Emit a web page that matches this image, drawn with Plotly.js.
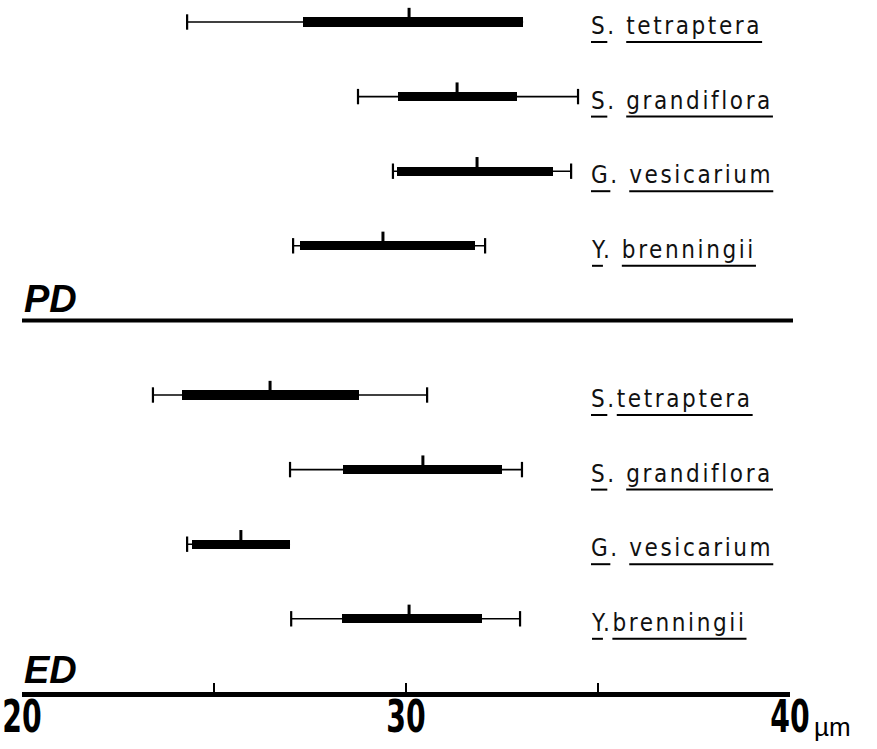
<!DOCTYPE html>
<html>
<head>
<meta charset="utf-8">
<script src="https://cdn.plot.ly/plotly-3.0.1.min.js"></script>
<style>
html,body{margin:0;padding:0;background:#fff;}
#chart{width:877px;height:749px;}
</style>
</head>
<body>
<div id="chart"></div>
<script>
// ---- data (µm) ----
const pdLabels = ['S. tetraptera', 'S. grandiflora', 'G. vesicarium', 'Y. brenningii'];
const pdMin  = [24.30, 28.75, 29.66, 27.06];
const pdQ1   = [27.32, 29.79, 29.77, 27.24];
const pdMean = [30.08, 31.33, 31.85, 29.40];
const pdQ3   = [33.05, 32.89, 33.83, 31.80];
const pdMax  = [33.05, 34.48, 34.30, 32.06];

const edLabels = ['S.tetraptera', 'S. grandiflora', 'G. vesicarium', 'Y.brenningii'];
const edMin  = [23.41, 26.98, 24.30, 27.01];
const edQ1   = [24.17, 28.36, 24.43, 28.33];
const edMean = [26.46, 30.44, 25.70, 30.08];
const edQ3   = [28.78, 32.50, 26.98, 31.98];
const edMax  = [30.55, 33.02, 26.98, 32.97];

const groupNames = ['PD', 'ED'];
const tickVals = [20, 25, 30, 35, 40];
const tickText = ['20', '', '30', '', '40'];
const unitLabel = 'µm';

// ---- build ----
const groups = [
  {labels: pdLabels, min: pdMin, q1: pdQ1, mean: pdMean, q3: pdQ3, max: pdMax, offset: 0},
  {labels: edLabels, min: edMin, q1: edQ1, mean: edMean, q3: edQ3, max: edMax, offset: 5}
];

const whX = [], whY = [], capX = [], capY = [], meanX = [], meanY = [];
const boxBase = [], boxLen = [], boxY = [];
const speciesAnn = [];
const TICK_UP = 0.19;

groups.forEach(g => {
  g.labels.forEach((lab, i) => {
    const row = g.offset + i;
    whX.push(g.min[i], g.max[i], null); whY.push(row, row, null);
    if (g.min[i] < g.q1[i]) { capX.push(g.min[i]); capY.push(row); }
    if (g.max[i] > g.q3[i]) { capX.push(g.max[i]); capY.push(row); }
    boxBase.push(g.q1[i]); boxLen.push(g.q3[i] - g.q1[i]); boxY.push(row);
    meanX.push(g.mean[i], g.mean[i], null); meanY.push(row, row - TICK_UP, null);
    speciesAnn.push({label: lab, row: row});
  });
});

const data = [
  {type: 'scatter', mode: 'lines', x: whX, y: whY, line: {color: '#000', width: 1.6}, hoverinfo: 'skip'},
  {type: 'bar', orientation: 'h', base: boxBase, x: boxLen, y: boxY, width: 0.125,
   marker: {color: '#000', line: {width: 0}}, hoverinfo: 'skip'},
  {type: 'scatter', mode: 'markers', x: capX, y: capY,
   marker: {symbol: 'line-ns', size: 11, color: '#000', line: {color: '#000', width: 2.2}}, hoverinfo: 'skip'},
  {type: 'scatter', mode: 'lines', x: meanX, y: meanY, line: {color: '#000', width: 3}, hoverinfo: 'skip'}
];

const W = 877, H = 749, ML = 22, MR = 87;
const PLOTW = W - ML - MR;
const ROW_PX = 74.6, ROW0_PX = 22;
const yTop = -ROW0_PX / ROW_PX, yBot = (H - ROW0_PX) / ROW_PX;
const pxToPaperX = px => (px - ML) / PLOTW;
const axisPx = 694;

const LABEL_FONT = {family: '"Liberation Sans Narrow", "DejaVu Sans Condensed", "Arial Narrow", sans-serif', size: 24, color: '#111'};
const annotations = [];
const speciesIdx = [];
speciesAnn.forEach(s => {
  speciesIdx.push(annotations.length);
  annotations.push({
    xref: 'paper', yref: 'y', x: pxToPaperX(589), y: s.row, xanchor: 'left', yanchor: 'middle',
    align: 'left', yshift: -4, showarrow: false,
    text: '<span style="letter-spacing:2.6px">' + s.label + '</span>', font: LABEL_FONT
  });
});
// group titles
annotations.push({xref: 'paper', yref: 'y', x: pxToPaperX(22), y: 4, xanchor: 'left', yanchor: 'bottom', yshift: -2,
  showarrow: false, text: '<b><i>' + groupNames[0] + '</i></b>',
  font: {family: '"Liberation Sans", Arial, sans-serif', size: 38, color: '#000'}});
annotations.push({xref: 'paper', yref: 'y', x: pxToPaperX(22), y: 9, xanchor: 'left', yanchor: 'bottom', yshift: 0,
  showarrow: false, text: '<b><i>' + groupNames[1] + '</i></b>',
  font: {family: '"Liberation Sans", Arial, sans-serif', size: 38, color: '#000'}});
annotations.push({xref: 'paper', yref: 'paper', x: pxToPaperX(812), y: (H - 744) / H, xanchor: 'left', yanchor: 'bottom',
  showarrow: false, text: unitLabel,
  font: {family: '"Liberation Sans", Arial, sans-serif', size: 26, color: '#000'}});

const shapes = [
  {type: 'line', xref: 'paper', yref: 'y', x0: 0, x1: pxToPaperX(793), y0: 4, y1: 4,
   line: {color: '#000', width: 4}}
];

const layout = {
  width: W, height: H,
  margin: {l: ML, r: MR, t: 0, b: 0, pad: 0},
  paper_bgcolor: '#fff', plot_bgcolor: '#fff',
  showlegend: false, bargap: 0,
  xaxis: {
    range: [20, 40], anchor: 'free', position: (H - axisPx) / H,
    showline: true, linecolor: '#000', linewidth: 5,
    ticks: 'inside', ticklen: 9, tickwidth: 2.5, tickcolor: '#000',
    tickvals: tickVals, ticktext: tickText, ticklabeloverflow: 'allow', ticklabelstandoff: -19,
    tickfont: {family: '"Liberation Sans Narrow", "DejaVu Sans Condensed", sans-serif', size: 45, color: '#000', weight: 'bold'},
    showgrid: false, zeroline: false, fixedrange: true
  },
  yaxis: {range: [yBot, yTop], visible: false, showgrid: false, zeroline: false, fixedrange: true},
  annotations: annotations,
  shapes: shapes
};

function narrowTicks(gd) {
  gd.querySelectorAll('g.xtick text').forEach(t => {
    const tr = t.getAttribute('transform') || '';
    if (tr.indexOf('scale') === -1) t.setAttribute('transform', tr + ' scale(0.7,1)');
  });
}

Plotly.newPlot('chart', data, layout, {staticPlot: true, displayModeBar: false}).then(gd => {
  const gdRect = gd.getBoundingClientRect();
  const newShapes = shapes.slice();
  speciesIdx.forEach((ai, k) => {
    const t = gd.querySelector('.annotation[data-index="' + ai + '"] text.annotation-text');
    if (!t) return;
    const txt = t.textContent;
    const ctm = t.getScreenCTM();
    const toPx = x => ctm.a * x + ctm.e - gdRect.left;
    let sp = 2;
    while (sp < txt.length && !/[a-z]/.test(txt[sp])) sp++;
    try {
      const e0 = t.getExtentOfChar(0);
      const es = t.getExtentOfChar(sp);
      const el = t.getExtentOfChar(txt.length - 1);
      const row = speciesAnn[k].row;
      const mk = (a, b) => ({type: 'line', xref: 'paper', yref: 'y', ysizemode: 'pixel', yanchor: row,
        x0: pxToPaperX(a), x1: pxToPaperX(b), y0: -20, y1: -20, line: {color: '#000', width: 2}});
      newShapes.push(mk(toPx(e0.x), toPx(e0.x + e0.width)));
      newShapes.push(mk(toPx(es.x), toPx(el.x + el.width)));
    } catch (e) {}
  });
  return Plotly.relayout(gd, {shapes: newShapes});
}).then(gd => narrowTicks(gd || document.getElementById('chart')));
</script>
</body>
</html>
